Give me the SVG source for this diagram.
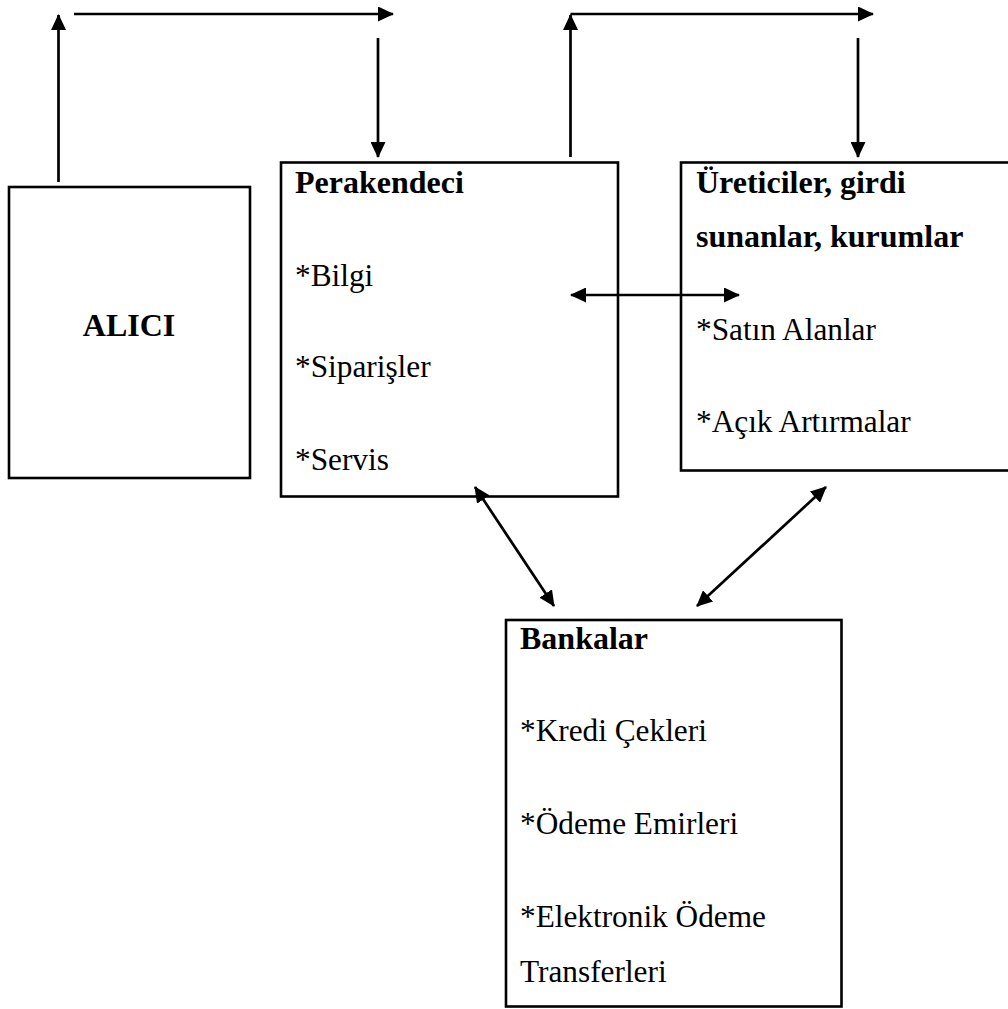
<svg xmlns="http://www.w3.org/2000/svg" width="1008" height="1009" viewBox="0 0 1008 1009">
  <style>
    .box { fill: none; stroke: #000; stroke-width: 2.6; }
    .conn { fill: none; stroke: #000; stroke-width: 2.7; }
    .t { font-family: "Liberation Serif", "Times New Roman", serif; font-size: 31.3px; fill: #000; }
    .b { font-weight: bold; font-size: 32px; }
  </style>
  <defs>
    <marker id="ah" viewBox="0 0 16 15" markerWidth="16" markerHeight="15" refX="15" refY="7.5" orient="auto-start-reverse" markerUnits="userSpaceOnUse">
      <path d="M0,0 L16,7.5 L0,15 z" fill="#000"/>
    </marker>
  </defs>
  <rect width="1008" height="1009" fill="#fff"/>

  <g id="alici">
    <rect class="box" x="9" y="187" width="241" height="291"/>
    <text class="t b" x="129" y="336" text-anchor="middle">ALICI</text>
  </g>

  <g id="perakendeci">
    <rect class="box" x="281" y="162.5" width="337" height="334"/>
    <text class="t b" x="295" y="193">Perakendeci</text>
    <text class="t" x="295" y="286">*Bilgi</text>
    <text class="t" x="295" y="377">*Siparişler</text>
    <text class="t" x="295" y="470">*Servis</text>
  </g>

  <g id="ureticiler">
    <rect class="box" x="681" y="162.5" width="340" height="308"/>
    <text class="t b" x="696" y="193">Üreticiler, girdi</text>
    <text class="t b" x="696" y="247">sunanlar, kurumlar</text>
    <text class="t" x="696" y="340">*Satın Alanlar</text>
    <text class="t" x="696" y="432">*Açık Artırmalar</text>
  </g>

  <g id="bankalar">
    <rect class="box" x="506" y="620" width="335.5" height="386.5"/>
    <text class="t b" x="520" y="649">Bankalar</text>
    <text class="t" x="520" y="741">*Kredi Çekleri</text>
    <text class="t" x="520" y="834">*Ödeme Emirleri</text>
    <text class="t" x="520" y="927">*Elektronik Ödeme</text>
    <text class="t" x="520" y="982">Transferleri</text>
  </g>

  <g id="connectors">
    <line class="conn" x1="58.5" y1="182" x2="58.5" y2="15" marker-end="url(#ah)"/>
    <line class="conn" x1="74" y1="14" x2="393" y2="14" marker-end="url(#ah)"/>
    <line class="conn" x1="378" y1="38" x2="378" y2="157" marker-end="url(#ah)"/>
    <line class="conn" x1="570.5" y1="157" x2="570.5" y2="15" marker-end="url(#ah)"/>
    <line class="conn" x1="570.5" y1="14" x2="873" y2="14" marker-end="url(#ah)"/>
    <line class="conn" x1="858" y1="38" x2="858" y2="157" marker-end="url(#ah)"/>
    <line class="conn" x1="571" y1="295" x2="739" y2="295" marker-start="url(#ah)" marker-end="url(#ah)"/>
    <line class="conn" x1="475" y1="487" x2="554" y2="606" marker-start="url(#ah)" marker-end="url(#ah)"/>
    <line class="conn" x1="826" y1="487" x2="697" y2="606" marker-start="url(#ah)" marker-end="url(#ah)"/>
  </g>
</svg>
